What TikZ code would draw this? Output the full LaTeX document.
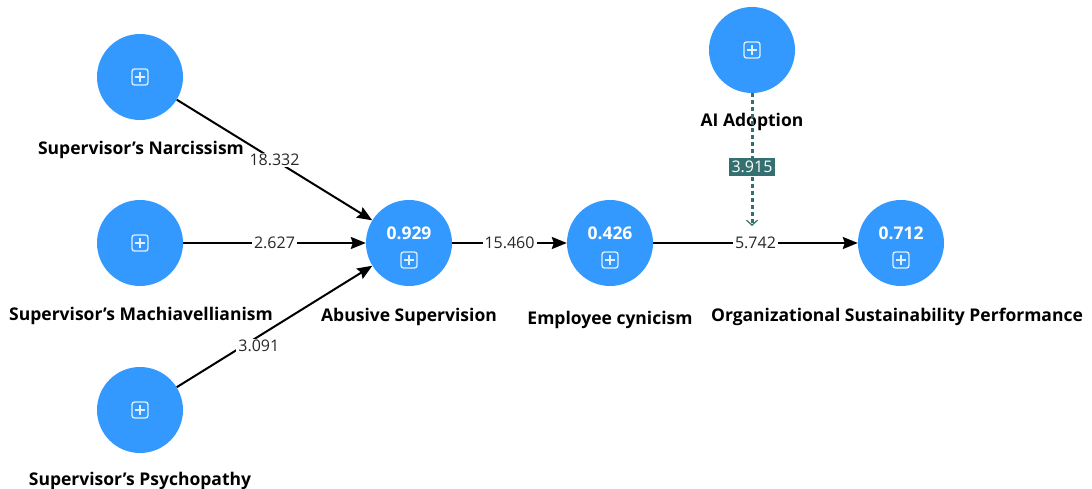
\documentclass[tikz,border=0pt]{standalone}
\usepackage{fontspec}
\setmainfont{Open Sans}
\usetikzlibrary{arrows.meta}
\definecolor{lvblue}{RGB}{51,153,255}
\definecolor{modteal}{RGB}{52,112,112}
\definecolor{numgray}{RGB}{40,40,40}
\tikzset{
  lv/.style={circle, fill=lvblue, minimum size=86pt, inner sep=0pt},
  lvname/.style={font=\bfseries\fontsize{17.5}{20}\selectfont, text=black, inner sep=0pt},
  lvval/.style={font=\bfseries\fontsize{17.5}{20}\selectfont, text=white, inner sep=0pt},
  path/.style={line width=2pt, draw=black, -{Stealth[length=15pt,width=12pt,inset=2pt]}},
  coef/.style={fill=white, text=numgray, font=\fontsize{16}{18}\selectfont, inner xsep=2pt, inner ysep=1pt},
  modpath/.style={line width=3pt, draw=modteal, dash pattern=on 4pt off 3pt,
    -{Straight Barb[length=5pt,width=11pt,line width=1.2pt]}},
  modcoef/.style={fill=modteal, text=white, font=\fontsize{16}{18}\selectfont, inner xsep=3pt, inner ysep=3pt},
  plusicon/.pic={
    \draw[white, opacity=0.85, line width=1.3pt, rounded corners=2.5pt] (-8,-8) rectangle (8,8);
    \draw[white, opacity=0.85, line width=1.3pt] (-5,0) -- (5,0) (0,-5) -- (0,5);
  }
}
\begin{document}
\begin{tikzpicture}[x=1pt, y=-1pt]
\useasboundingbox[fill=white] (0,0) rectangle (1092,489);

% latent variables
\node[lv] (narc) at (140,77) {};
\node[lv] (mach) at (140,243) {};
\node[lv] (psyc) at (140,410) {};
\node[lv] (abus) at (409,243) {};
\node[lv] (cyn)  at (610,243) {};
\node[lv] (osp)  at (901,243) {};
\node[lv] (ai)   at (752,50) {};

% expand icons
\pic at (140,77) {plusicon};
\pic at (140,243) {plusicon};
\pic at (140,410) {plusicon};
\pic at (752,50) {plusicon};
\pic at (409,260) {plusicon};
\pic at (610,260) {plusicon};
\pic at (901,260) {plusicon};

% R-squared values
\node[lvval] (abusR) at (409,233) {0.929};
\node[lvval] (cynR)  at (610,233) {0.426};
\node[lvval] (ospR)  at (901,233) {0.712};

% variable names
\node[lvname] (narcL) at (141,150) {Supervisor's Narcissism};
\node[lvname] (machL) at (141,316) {Supervisor's Machiavellianism};
\node[lvname] (psycL) at (140,481) {Supervisor's Psychopathy};
\node[lvname] (abusL) at (409,317) {Abusive Supervision};
\node[lvname] (cynL)  at (610,320) {Employee cynicism};
\node[lvname] (ospL)  at (897,317) {Organizational Sustainability Performance};
\node[lvname] (aiL)   at (752,122) {AI Adoption};

% structural paths
\draw[path] (narc) -- node[coef, pos=0.5] {18.332} (abus);
\draw[path] (mach) -- node[coef, pos=0.5] {2.627} (abus);
\draw[path] (psyc) -- node[coef, pos=0.42, yshift=-10pt] {3.091} (abus);
\draw[path] (abus) -- node[coef, pos=0.5] {15.460} (cyn);
\draw[path] (cyn)  -- node[coef, pos=0.5] (modhit) {5.742} (osp);

% moderating effect
\coordinate (modend) at (752,226);
\draw[modpath] (ai) -- node[modcoef, pos=0.555] {3.915} (modend);
\end{tikzpicture}
\end{document}
